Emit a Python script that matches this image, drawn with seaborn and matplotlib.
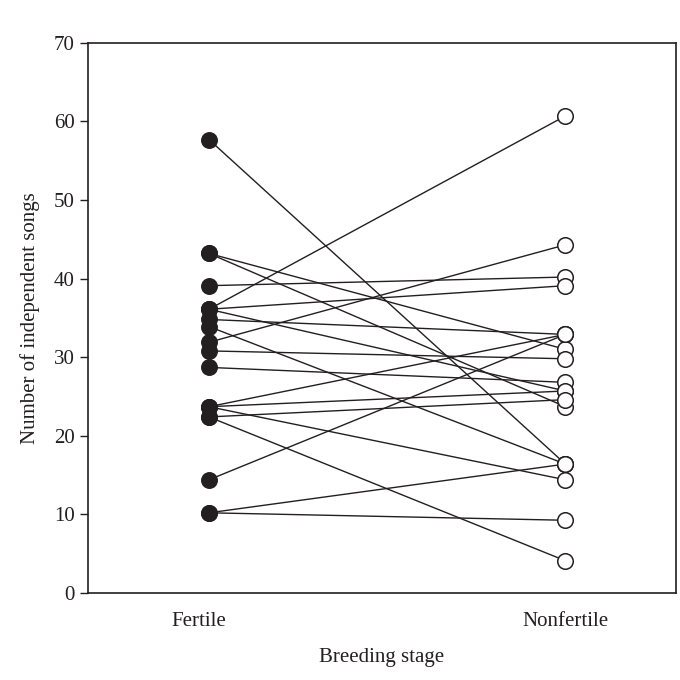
import pandas as pd
import matplotlib
matplotlib.use("Agg")
import matplotlib.pyplot as plt
import matplotlib.transforms as mtransforms
import seaborn as sns

# one entry per bird: songs in fertile and nonfertile stage
fertile = [57.7, 43.2, 43.2, 39.1, 36.1, 36.1, 36.1, 34.8, 33.9, 31.9, 30.8,
           28.7, 23.7, 23.7, 22.4, 23.7, 22.4, 14.4, 10.2, 10.2]
nonfertile = [16.4, 31.0, 23.7, 40.2, 60.7, 39.1, 25.7, 32.9, 16.4, 44.3, 29.8,
              26.8, 32.9, 25.7, 24.6, 14.4, 4.1, 32.9, 16.4, 9.25]
stages = ["Fertile", "Nonfertile"]

rows = []
for i, (f, n) in enumerate(zip(fertile, nonfertile)):
    rows.append({"bird": i, "stage": 0, "songs": f})
    rows.append({"bird": i, "stage": 1, "songs": n})
df = pd.DataFrame(rows)

ink = "#231f20"
sns.set_style("ticks")
plt.rcParams["font.family"] = ["Liberation Serif", "DejaVu Serif"]

fig = plt.figure(figsize=(6.8, 6.8), dpi=100)
ax = fig.add_axes([0.129, 0.128, 0.865, 0.809])

sns.lineplot(data=df, x="stage", y="songs", units="bird", estimator=None,
             color=ink, linewidth=1.0, ax=ax, legend=False)
sns.scatterplot(data=df[df.stage == 0], x="stage", y="songs", color=ink,
                edgecolor=ink, s=125, linewidth=1, ax=ax, zorder=3, legend=False)
sns.scatterplot(data=df[df.stage == 1], x="stage", y="songs", color="white",
                edgecolor=ink, s=125, linewidth=1.1, ax=ax, zorder=3, legend=False)

ax.set_xlim(-0.34, 1.31)
ax.set_ylim(0, 70)
ax.set_yticks(range(0, 71, 10))
ax.set_xticks([0, 1])
ax.set_xticklabels(stages)
ax.tick_params(axis="x", length=0, pad=14, labelsize=15, colors=ink)
ax.tick_params(axis="y", length=6, width=1, direction="out", labelsize=15, colors=ink)
# the "Fertile" label sits a little left of its points in the original
lab = ax.get_xticklabels()[0]
lab.set_transform(lab.get_transform() +
                  mtransforms.ScaledTranslation(-10 / 100, 0, fig.dpi_scale_trans))
for sp in ax.spines.values():
    sp.set_linewidth(1.2)
    sp.set_color(ink)
ax.set_xlabel("Breeding stage", fontsize=15, labelpad=12, color=ink)
ax.set_ylabel("Number of independent songs", fontsize=15, labelpad=10, color=ink)

fig.savefig("out.png", dpi=100)
